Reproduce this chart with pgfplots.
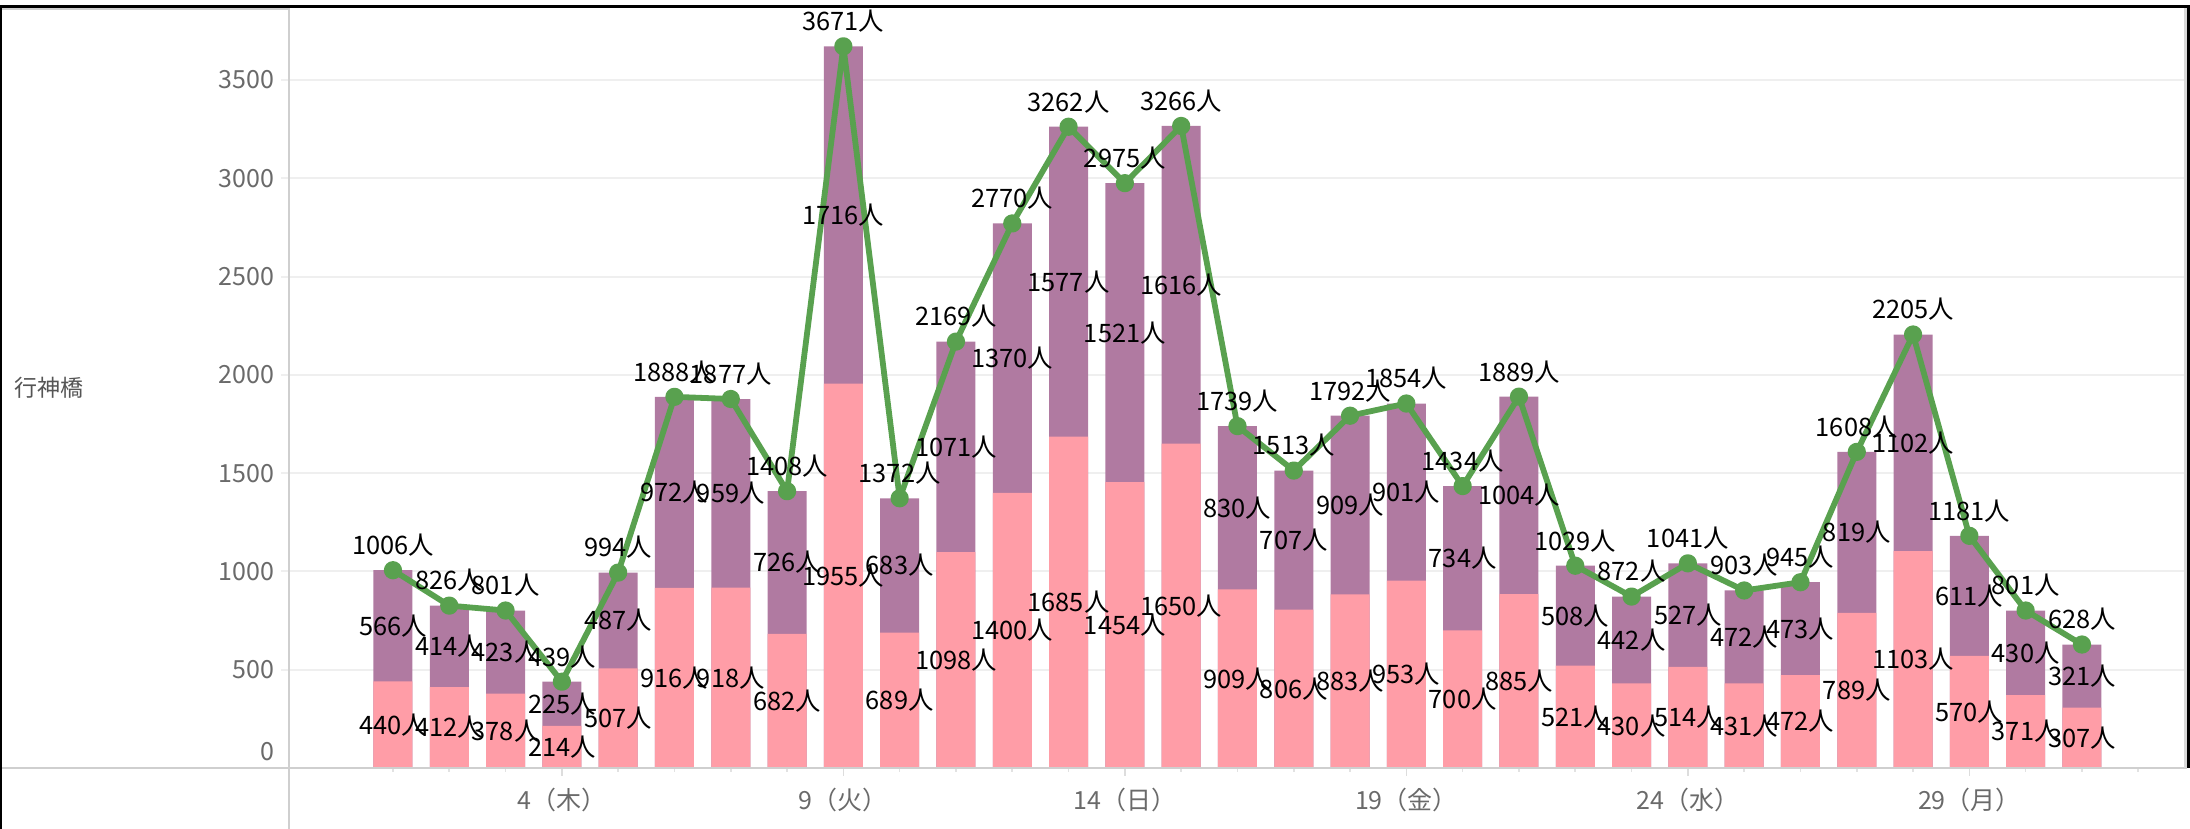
\documentclass[border=0pt]{standalone}
\usepackage{fontspec}
\setmainfont{Noto Sans CJK JP}
\usepackage{pgfplots}
\usepackage{pgfplotstable}
\pgfplotsset{compat=1.18}
\definecolor{cpink}{HTML}{FF9DA7}
\definecolor{cpurple}{HTML}{B07AA1}
\definecolor{cgreen}{HTML}{59A14F}
\definecolor{cgrid}{HTML}{EFEFEF}
\definecolor{ctick}{HTML}{6A6A6A}
\definecolor{caxis}{HTML}{CFCFCF}
\definecolor{crow}{HTML}{555555}

\pgfplotstableread{
d pk pu tot
1 440 566 1006
2 412 414 826
3 378 423 801
4 214 225 439
5 507 487 994
6 916 972 1888
7 918 959 1877
8 682 726 1408
9 1955 1716 3671
10 689 683 1372
11 1098 1071 2169
12 1400 1370 2770
13 1685 1577 3262
14 1454 1521 2975
15 1650 1616 3266
16 909 830 1739
17 806 707 1513
18 883 909 1792
19 953 901 1854
20 700 734 1434
21 885 1004 1889
22 521 508 1029
23 430 442 872
24 514 527 1041
25 431 472 903
26 472 473 945
27 789 819 1608
28 1103 1102 2205
29 570 611 1181
30 371 430 801
31 307 321 628
}\data

\begin{document}
\begin{tikzpicture}
\useasboundingbox (-144.5pt,-30.5pt) rectangle (950.5pt,384pt);
\begin{axis}[
  at={(0pt,0pt)}, anchor=south west,
  scale only axis, width=948pt, height=380pt,
  xmin=-0.847, xmax=32.83, ymin=0, ymax=3866,
  axis line style={draw=none},
  tick align=outside,
  major tick length=4pt, minor tick length=2pt,
  xtick pos=bottom, ytick pos=left,
  xtick={4,9,14,19,24,29},
  xticklabels={4（木）,9（火）,14（日）,19（金）,24（水）,29（月）},
  minor xtick={1,...,32},
  xtick style={color=caxis!70, line width=0.8pt},
  minor x tick style={color=caxis!60, line width=0.8pt},
  ytick={500,1000,...,3500},
  extra y ticks={0},
  extra y tick style={yticklabel style={yshift=8pt}},
  ytick style={color=cgrid, line width=1pt},
  ymajorgrids,
  grid style={color=cgrid, line width=1pt},
  /pgf/number format/1000 sep={},
  /pgf/number format/assume math mode=true,
  ticklabel style={font=\fontsize{12.5}{14}\selectfont, text=ctick},
  xticklabel style={anchor=center, yshift=-12pt},
  every node near coord/.append style={anchor=center, inner sep=0pt, text=black, font=\fontsize{12.7}{14}\selectfont},
  clip=false,
]
\addplot[ybar, bar width=19.5pt, bar shift=0pt, fill=cpurple, draw=none] table[x=d, y=tot] {\data};
\addplot[ybar, bar width=19.5pt, bar shift=0pt, fill=cpink, draw=none] table[x=d, y=pk] {\data};
\addplot[cgreen, line width=2.9pt, line join=round, mark=*, mark size=3.1pt, mark options={fill=cgreen, draw=none}] table[x=d, y=tot] {\data};
\addplot[draw=none, point meta=explicit symbolic, nodes near coords={\pgfplotspointmeta 人}] table[x=d, y expr=\thisrow{pk}/2, meta=pk] {\data};
\addplot[draw=none, point meta=explicit symbolic, nodes near coords={\pgfplotspointmeta 人}] table[x=d, y expr=\thisrow{pk}+\thisrow{pu}/2, meta=pu] {\data};
\addplot[draw=none, point meta=explicit symbolic, nodes near coords={\pgfplotspointmeta 人}, every node near coord/.append style={yshift=12.5pt}] table[x=d, y=tot, meta=tot] {\data};
\end{axis}
% pane frame
\draw[caxis, line width=1.2pt] (-144.5pt,0pt) -- (949pt,0pt);
\draw[caxis, line width=1pt] (0pt,380pt) -- (0pt,-30.5pt);
\draw[caxis, line width=1pt] (-144pt,379.5pt) -- (0pt,379.5pt);
\draw[caxis!80, line width=1.5pt] (948pt,0pt) -- (948pt,380pt);
\draw[black, line width=1.2pt] (-143.9pt,-30.5pt) -- (-143.9pt,380.75pt);
\draw[black, line width=1.6pt] (-144.5pt,380.75pt) -- (950.5pt,380.75pt);
\draw[black, line width=1.6pt] (949.7pt,381pt) -- (949.7pt,0pt);
\node[text=crow, font=\fontsize{11.5}{13}\selectfont] at (-120pt,190pt) {行神橋};
\end{tikzpicture}
\end{document}
